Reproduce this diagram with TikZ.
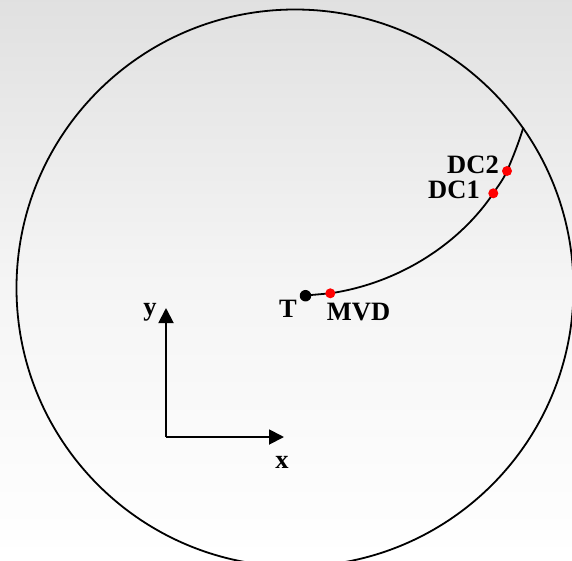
\documentclass[tikz,border=0pt]{standalone}
\usepackage{fontspec}
\setmainfont{Liberation Serif}
\usetikzlibrary{arrows.meta}
\definecolor{bgtop}{gray}{0.88}
\definecolor{bgmid}{gray}{0.96}
\tikzset{
  lab/.style={inner sep=0pt,font=\fontsize{26.5}{26.5}\selectfont\bfseries},
  reddot/.style={circle,fill=red,inner sep=0pt,minimum size=10pt},
  blackdot/.style={circle,fill=black,inner sep=0pt,minimum size=11.5pt},
  axisline/.style={line width=1.9pt,-{Triangle[length=15pt,width=15pt]}},
  curveline/.style={line width=1.8pt}
}
\begin{document}
\begin{tikzpicture}[x=1pt,y=-1pt]
\useasboundingbox (0,0) rectangle (572,560);
\shade[top color=bgtop,bottom color=bgmid] (0,0) rectangle (572,280.5);
\shade[top color=bgmid,bottom color=white] (0,280) rectangle (572,560);
\begin{scope}
\clip (0,0) rectangle (572,560);
\node[circle,draw=black,line width=1.8pt,inner sep=0pt,minimum size=557pt] (disk) at (295,288) {};
\end{scope}
\coordinate (end) at (523.3,127.5);
\coordinate (origin) at (166,437);
\coordinate (xtip) at (284,437);
\coordinate (ytip) at (166,308);
\draw[curveline] (305.5,295.5) -- (330.3,293.3) .. controls (400,283) and (460,243) .. (493.3,193.3)
  .. controls (498,186) and (503,180) .. (507,171) .. controls (513,157) and (519,142) .. (end);
\node[blackdot] (T) at (305.5,295.7) {};
\node[reddot] (MVD) at (330.3,293.3) {};
\node[reddot] (DC1) at (493.3,193.3) {};
\node[reddot] (DC2) at (507,171) {};
\draw[axisline] (origin) -- (xtip);
\draw[axisline] (origin) -- (ytip);
\node[lab,anchor=center] at (288,309) {T};
\node[lab,anchor=center] at (358.5,312) {MVD};
\node[lab,anchor=center] at (473,165) {DC2};
\node[lab,anchor=center] at (454,190) {DC1};
\node[lab,anchor=center] at (282,462) {x};
\node[lab,anchor=center] at (150,312) {y};
\end{tikzpicture}
\end{document}
